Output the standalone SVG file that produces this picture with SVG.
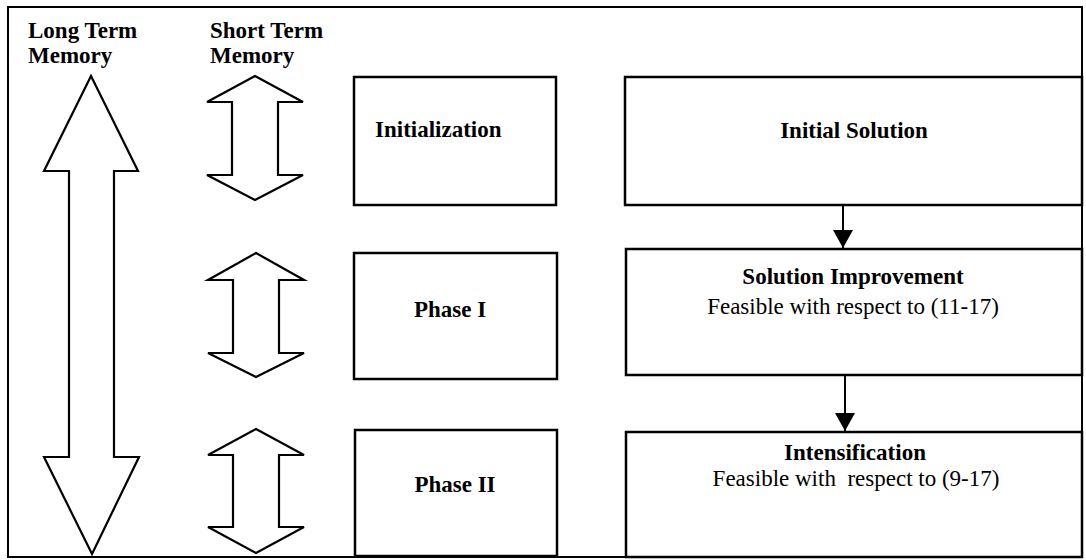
<svg xmlns="http://www.w3.org/2000/svg" width="1086" height="560" viewBox="0 0 1086 560">
<defs>
<style>
.frame{fill:none;stroke:#000;stroke-width:2}
.box{fill:#fff;stroke:#000;stroke-width:2.5}
.arr{fill:#fff;stroke:#000;stroke-width:2.2;stroke-linejoin:miter}
.b{font-family:"Liberation Serif","Times New Roman",serif;font-weight:bold;font-size:23px;fill:#000}
.r{font-family:"Liberation Serif","Times New Roman",serif;font-size:23px;fill:#000}
.c{text-anchor:middle}
.conn{stroke:#000;stroke-width:2;fill:none}
</style>
<marker id="ah" viewBox="0 0 18 20" refX="18" refY="10" markerWidth="18" markerHeight="20" markerUnits="userSpaceOnUse" orient="auto">
<path d="M0,0 L18,10 L0,20 Z" fill="#000"/>
</marker>
</defs>
<rect x="0" y="0" width="1086" height="560" fill="#fff"/>
<rect class="frame" x="8" y="7" width="1074" height="550"/>

<g id="titles">
<text class="b" x="28" y="38">Long Term</text>
<text class="b" x="28" y="63">Memory</text>
<text class="b" x="210" y="38">Short Term</text>
<text class="b" x="210" y="63">Memory</text>
</g>

<g id="long-term-arrow">
<polygon class="arr" points="91,76 138,171 114,171 114,457 139,457 92,554 44,457 69,457 69,171 44,171"/>
</g>

<g id="short-arrow-1">
<polygon class="arr" points="255,76 303,102 278,102 278,175 303,175 255,200 207,175 232,175 232,102 207,102"/>
</g>
<g id="short-arrow-2">
<polygon class="arr" points="256,253 304,280 279,280 279,353 304,353 256,377 208,353 233,353 233,280 208,280"/>
</g>
<g id="short-arrow-3">
<polygon class="arr" points="256,429 304,455 279,455 279,527 304,527 256,553 208,527 233,527 233,455 208,455"/>
</g>

<g id="initialization">
<rect class="box" x="354" y="77" width="202" height="128"/>
<text class="b" x="375" y="137">Initialization</text>
</g>
<g id="phase1">
<rect class="box" x="354" y="253" width="203" height="126"/>
<text class="b c" x="450" y="317">Phase I</text>
</g>
<g id="phase2">
<rect class="box" x="355" y="430" width="202" height="126"/>
<text class="b c" x="455" y="492">Phase II</text>
</g>

<g id="initial-solution">
<rect class="box" x="625" y="77" width="457" height="128"/>
<text class="b c" x="854" y="138">Initial Solution</text>
</g>
<g id="solution-improvement">
<rect class="box" x="626" y="249" width="456" height="126"/>
<text class="b c" x="853" y="284">Solution Improvement</text>
<text class="r c" x="853" y="314">Feasible with respect to (11-17)</text>
</g>
<g id="intensification">
<rect class="box" x="626" y="432" width="456" height="125"/>
<text class="b c" x="855" y="460">Intensification</text>
<text class="r c" x="856" y="486" xml:space="preserve">Feasible with  respect to (9-17)</text>
</g>

<g id="connectors">
<line class="conn" x1="843" y1="206" x2="843" y2="248" marker-end="url(#ah)"/>
<line class="conn" x1="845" y1="376" x2="845" y2="431" marker-end="url(#ah)"/>
</g>
</svg>
